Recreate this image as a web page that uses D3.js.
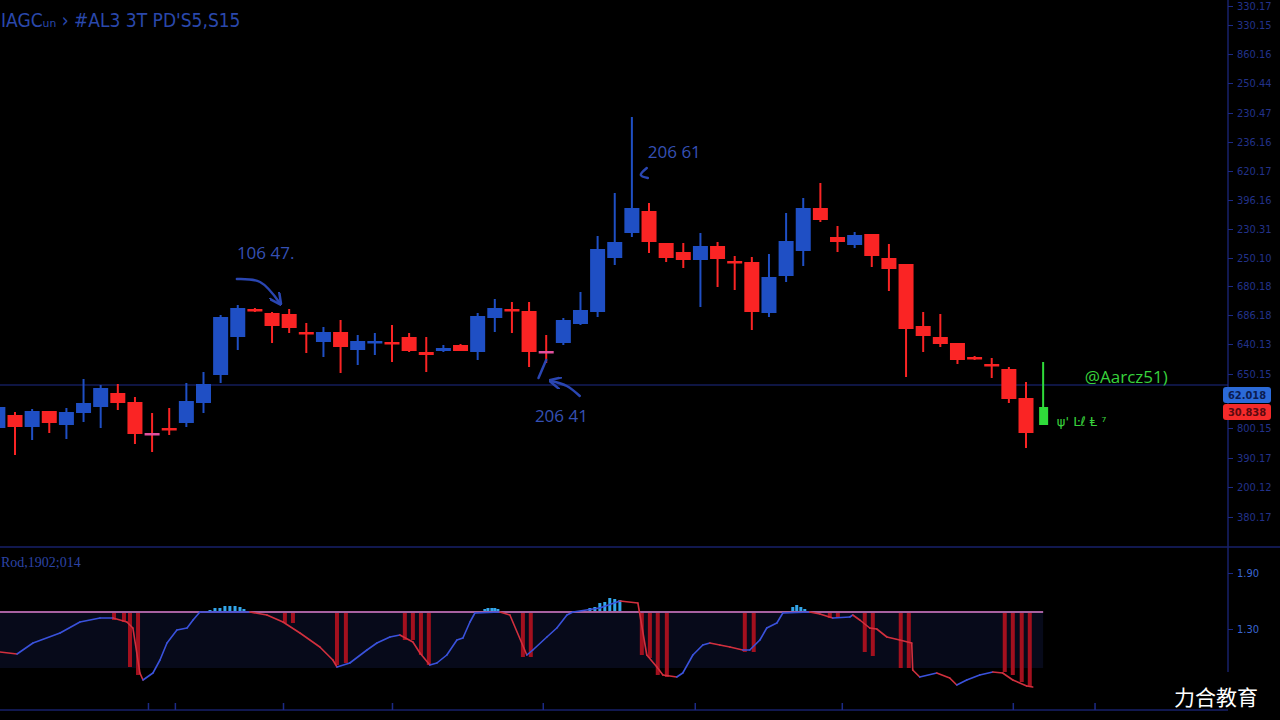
<!DOCTYPE html>
<html>
<head>
<meta charset="utf-8">
<script src="https://cdn.jsdelivr.net/npm/d3@7"></script>
<style>
  html, body { margin: 0; background: #000; overflow: hidden; }
  svg { display: block; }
</style>
</head>
<body>
<svg id="chart" width="1280" height="720"></svg>
<script>
// candles: [open, high, low, close], first row is bar index -1
const firstIdx = -1;
const candles = [
  [172,195,160,193], [185,188,145,173], [173,191,160,189], [189,189,167,177],
  [175,192,161,188], [187,221,178,197], [193,215,172,212], [207,216,190,197],
  [198,203,156,166], [167,187,148,166], [172,192,165,170], [177,217,173,199],
  [197,228,187,216], [225,285,217,283], [263,295,250,292], [291,292,288,289],
  [287,288,257,274], [286,291,267,272], [268,277,247,266], [258,273,243,268],
  [268,280,227,253], [250,265,235,259], [257,267,245,259], [258,275,238,257],
  [263,267,248,249], [248,263,228,245], [249,255,248,252], [255,256,249,249],
  [248,287,240,284], [282,301,268,292], [291,298,267,289], [289,298,233,248],
  [249,265,237,247], [257,282,255,280], [276,308,275,290], [288,364,283,351],
  [342,407,335,358], [367,483,363,392], [389,397,347,358], [357,357,338,342],
  [348,357,332,340], [340,367,293,354], [354,358,313,341], [339,344,310,338],
  [338,343,270,288], [287,346,283,323], [324,387,318,359], [349,402,334,392],
  [392,417,378,380], [363,374,348,358], [355,368,352,365], [366,366,333,344],
  [342,356,309,331], [336,336,223,271], [274,288,248,264], [263,286,253,256],
  [257,257,236,240], [243,244,240,241], [236,242,222,234], [231,233,197,201],
  [202,218,152,167], [175,238,175,193]
];
const markedBars = [8, 31];
const liveBar = 60;
const lastPrice = 215;

const priceTicks = [594, 575, 546, 517, 487, 458, 429, 400, 371, 342, 314, 285, 256, 226, 172, 142, 113, 83];
const priceTickLabels = ['330.17', '330.15', '860.16', '250.44', '230.47', '236.16', '620.17', '396.16', '230.31',
  '250.10', '680.18', '686.18', '640.13', '650.15', '800.15', '390.17', '200.12', '380.17'];
const priceTags = [
  { label: '62.018', value: 205, kind: 'up' },
  { label: '30.838', value: 188, kind: 'down' }
];

// indicator histogram: [bar index, value]
const histBars = [
  [5.78,-8], [6.36,-10], [6.71,-55], [7.18,-63],
  [11.38,2], [11.67,4], [11.96,4], [12.25,6], [12.54,6], [12.84,6], [13.13,5], [13.36,3],
  [15.75,-11], [16.22,-11], [18.79,-53], [19.31,-51],
  [22.75,-28], [23.22,-28], [23.69,-43], [24.15,-53],
  [27.42,3], [27.6,4], [27.83,4], [28.0,4], [28.18,3],
  [29.64,-45], [30.1,-45],
  [33.55,4], [33.84,5], [34.13,9], [34.42,10], [34.71,14], [35.0,13], [35.3,12],
  [36.58,-43], [37.05,-46], [37.51,-63], [38.04,-65],
  [42.59,-40], [43.11,-40],
  [45.39,5], [45.62,7], [45.86,5], [46.09,3],
  [47.55,-6], [48.02,-6],
  [49.59,-40], [50.06,-44], [51.69,-56], [52.16,-56],
  [57.76,-60], [58.23,-63], [58.75,-70], [59.22,-74]
];
const signalLine = [
  [-0.88,-40], [0.12,-42], [1.05,-31], [2.63,-21], [3.79,-10], [4.96,-6], [5.72,-6], [6.53,-10],
  [6.88,-16], [7.29,-61], [7.47,-68], [8.05,-61], [8.46,-48], [8.87,-31], [9.45,-18], [10.04,-16],
  [10.39,-8], [10.79,0], [13.71,0], [14.7,-3], [15.64,-10], [16.63,-21], [17.79,-35], [18.55,-48],
  [18.79,-55], [19.54,-51], [20.54,-38], [21.12,-31], [21.88,-25], [22.46,-23], [23.22,-30],
  [23.63,-41], [24.21,-53], [24.62,-51], [25.2,-43], [25.79,-28], [26.14,-26], [26.55,-10],
  [26.84,-1], [28.3,0], [28.88,-3], [29.87,-43], [30.22,-38], [31.04,-25], [31.62,-16],
  [32.21,-3], [32.56,0], [34.13,4], [35.3,11], [36.35,9], [36.87,-43], [37.46,-55], [37.81,-63],
  [38.62,-65], [38.97,-61], [39.56,-43], [40.14,-33], [40.55,-31], [41.13,-33], [41.72,-35],
  [42.47,-38], [42.88,-38], [43.47,-28], [43.87,-16], [44.46,-11], [44.81,-1], [46.38,0],
  [46.97,-2], [47.72,-6], [48.72,-5], [48.89,-3], [49.3,-8], [49.88,-16], [50.29,-17],
  [50.88,-25], [51.63,-28], [52.33,-31], [52.39,-58], [52.8,-65], [53.79,-61], [54.55,-66],
  [54.96,-73], [55.54,-68], [56.3,-63], [57.06,-60], [57.64,-61], [58.23,-68], [59.04,-74], [59.39,-75]
];
const indTicks = [39, -17];
const indTickLabels = ['1.90', '1.30'];
const indBand = [-56, 0];
const timeTicks = [7.76, 9.33, 15.64, 22.0, 30.8, 39.67, 48.25, 58.23, 63.0];

const notes = [
  { text: '106 47.', t: 12.95, v: 341 },
  { text: '206 61', t: 36.93, v: 442 },
  { text: '206 41', t: 30.34, v: 178 }
];
const arrows = [
  { pts: [[12.95,321],[14.3,318],[15.45,297]], head: true },
  { pts: [[32.96,204],[32.2,214],[31.3,219]], head: true },
  { pts: [[31.0,240],[30.55,222]], head: false },
  { pts: [[36.87,432],[36.52,425],[36.93,422]], head: false }
];

const W = 1280, axisX = 1228;
const svg = d3.select('#chart');

const x = d3.scaleLinear().domain([0, 59]).range([15, 1026]);
const y = d3.scaleLinear().domain([55, 600]).range([545, 0]);
const iy = d3.scaleLinear().domain([-98, 65]).range([710, 547]);

const UP = '#1f4fc4', DOWN = '#fa2424', MARK = '#e2509e', LIVE = '#2fdc3a';

// frame lines
svg.append('line').attr('x1', 0).attr('x2', W).attr('y1', 547).attr('y2', 547)
  .attr('stroke', '#17216a').attr('stroke-width', 1.5);
svg.append('line').attr('x1', axisX).attr('x2', axisX).attr('y1', 0).attr('y2', 672)
  .attr('stroke', '#17216a').attr('stroke-width', 1.5);
svg.append('line').attr('x1', 0).attr('x2', axisX).attr('y1', 710).attr('y2', 710)
  .attr('stroke', '#17216a').attr('stroke-width', 1.5);

// last price line
svg.append('line').attr('x1', 0).attr('x2', axisX)
  .attr('y1', y(lastPrice)).attr('y2', y(lastPrice))
  .attr('stroke', '#1c2a86').attr('stroke-width', 1.2);

// Candles
const bars = candles.map((c, i) => ({ i: i + firstIdx, o: c[0], h: c[1], l: c[2], c: c[3] }));
const colorOf = d => d.i === liveBar ? LIVE
  : markedBars.includes(d.i) ? MARK
  : d.c >= d.o ? UP : DOWN;
const cg = svg.append('g');
cg.selectAll('line.wick').data(bars).enter().append('line')
  .attr('x1', d => x(d.i)).attr('x2', d => x(d.i))
  .attr('y1', d => y(d.h)).attr('y2', d => y(d.l))
  .attr('stroke', d => d.i === liveBar ? LIVE : markedBars.includes(d.i) ? DOWN : colorOf(d))
  .attr('stroke-width', 2);
cg.selectAll('rect.body').data(bars).enter().append('rect')
  .attr('x', d => x(d.i) - (d.i === liveBar ? 4 : 7.5))
  .attr('width', d => d.i === liveBar ? 9 : 15)
  .attr('y', d => y(Math.max(d.o, d.c)))
  .attr('height', d => Math.max(2.5, Math.abs(y(d.o) - y(d.c))))
  .attr('fill', colorOf);

// Price axis
const pa = svg.append('g').attr('transform', `translate(${axisX},0)`)
  .call(d3.axisRight(y).tickValues(priceTicks)
    .tickFormat((d, i) => priceTickLabels[i]).tickSize(5).tickPadding(4));
pa.select('.domain').remove();
pa.selectAll('line').attr('stroke', '#1c2a86');
pa.selectAll('text').attr('fill', '#22328a')
  .style('font', '11px "DejaVu Sans Condensed", "DejaVu Sans", sans-serif');

// price tags
const tags = svg.append('g').selectAll('g').data(priceTags).enter().append('g')
  .attr('transform', d => `translate(${axisX - 5},${y(d.value)})`);
tags.append('rect').attr('x', 0).attr('y', -8).attr('width', 48).attr('height', 16).attr('rx', 3)
  .attr('fill', d => d.kind === 'up' ? '#2b6ad8' : '#f42a2a');
tags.append('text').attr('x', 24).attr('y', 4).attr('text-anchor', 'middle')
  .attr('fill', d => d.kind === 'up' ? '#0c1c50' : '#5a0a10')
  .style('font', 'bold 11px "DejaVu Sans Condensed", "DejaVu Sans", sans-serif')
  .text(d => d.label);

// Indicator panel
svg.append('rect')
  .attr('x', 0).attr('width', x(60))
  .attr('y', iy(indBand[1])).attr('height', iy(indBand[0]) - iy(indBand[1]))
  .attr('fill', '#070a1a');

svg.append('g').selectAll('rect').data(histBars).enter().append('rect')
  .attr('x', d => x(d[0]) - (d[1] < 0 ? 2 : 1.5))
  .attr('width', d => d[1] < 0 ? 4 : 3)
  .attr('y', d => iy(Math.max(0, d[1])))
  .attr('height', d => Math.abs(iy(d[1]) - iy(0)))
  .attr('fill', d => d[1] < 0 ? '#a3101e' : '#33a6ea');

svg.append('line').attr('x1', 0).attr('x2', x(60))
  .attr('y1', iy(0)).attr('y2', iy(0))
  .attr('stroke', '#c4578c').attr('stroke-width', 2);
svg.append('line').attr('x1', 0).attr('x2', x(60))
  .attr('y1', iy(0)).attr('y2', iy(0))
  .attr('stroke', '#4f86e6').attr('stroke-width', 0.8).attr('opacity', 0.6);

const segs = d3.pairs(signalLine);
svg.append('g').selectAll('line').data(segs).enter().append('line')
  .attr('x1', d => x(d[0][0])).attr('y1', d => iy(d[0][1]))
  .attr('x2', d => x(d[1][0])).attr('y2', d => iy(d[1][1]))
  .attr('stroke', d => d[1][1] < d[0][1] ? '#d2303e' : '#3a52dc')
  .attr('stroke-width', 1.6).attr('stroke-linecap', 'round');

const ia = svg.append('g').attr('transform', `translate(${axisX},0)`)
  .call(d3.axisRight(iy).tickValues(indTicks)
    .tickFormat((d, i) => indTickLabels[i]).tickSize(5).tickPadding(4));
ia.select('.domain').remove();
ia.selectAll('line').attr('stroke', '#1c2a86');
ia.selectAll('text').attr('fill', '#3a66d2')
  .style('font', '11px "DejaVu Sans Condensed", "DejaVu Sans", sans-serif');

const ta = svg.append('g').attr('transform', 'translate(0,710)')
  .call(d3.axisTop(x).tickValues(timeTicks).tickFormat('').tickSize(7));
ta.select('.domain').remove();
ta.selectAll('line').attr('stroke', '#1c2a86').attr('stroke-width', 1.5);

// Annotations
svg.append('defs').append('marker').attr('id', 'head')
  .attr('viewBox', '0 0 10 10').attr('refX', 8).attr('refY', 5)
  .attr('markerWidth', 5).attr('markerHeight', 5).attr('orient', 'auto')
  .append('path').attr('d', 'M0,0 L10,5 L0,10').attr('fill', 'none')
  .attr('stroke', '#2a46b2').attr('stroke-width', 2);

const curve = d3.line().x(d => x(d[0])).y(d => y(d[1])).curve(d3.curveCatmullRom);
svg.append('g').selectAll('path').data(arrows).enter().append('path')
  .attr('d', d => curve(d.pts)).attr('fill', 'none')
  .attr('stroke', '#2a46b2').attr('stroke-width', 2.5).attr('stroke-linecap', 'round')
  .attr('marker-end', d => d.head ? 'url(#head)' : null);

svg.append('g').selectAll('text').data(notes).enter().append('text')
  .attr('x', d => x(d.t)).attr('y', d => y(d.v))
  .attr('fill', '#3550b4')
  .style('font', '17px "Open Sans", sans-serif')
  .text(d => d.text);

svg.append('text').attr('x', x(62.43)).attr('y', y(217))
  .attr('fill', '#38d23c').style('font', '17px "Open Sans", sans-serif')
  .text('@Aarcz51)');
svg.append('text').attr('x', x(60.8)).attr('y', y(174))
  .attr('fill', '#38d23c').style('font', '13px "DejaVu Sans", sans-serif')
  .text('ψ\' Ŀℓ Ⱡ ⁷');

// Labels
svg.append('text').attr('x', 1).attr('y', 27)
  .attr('fill', '#2a48ac')
  .style('font', '19px "DejaVu Sans Condensed", "DejaVu Sans", sans-serif')
  .text('IAGCᵤₙ › #AL3 3T PD\'S5,S15');
svg.append('text').attr('x', 1).attr('y', 567)
  .attr('fill', '#2c44a6')
  .style('font', '14px "Liberation Serif", serif')
  .text('Rod,1902;014');
svg.append('text').attr('x', 1174).attr('y', 705)
  .attr('fill', '#ffffff')
  .style('font', '21px "Noto Sans CJK SC", sans-serif')
  .text('力合教育');
</script>
</body>
</html>
